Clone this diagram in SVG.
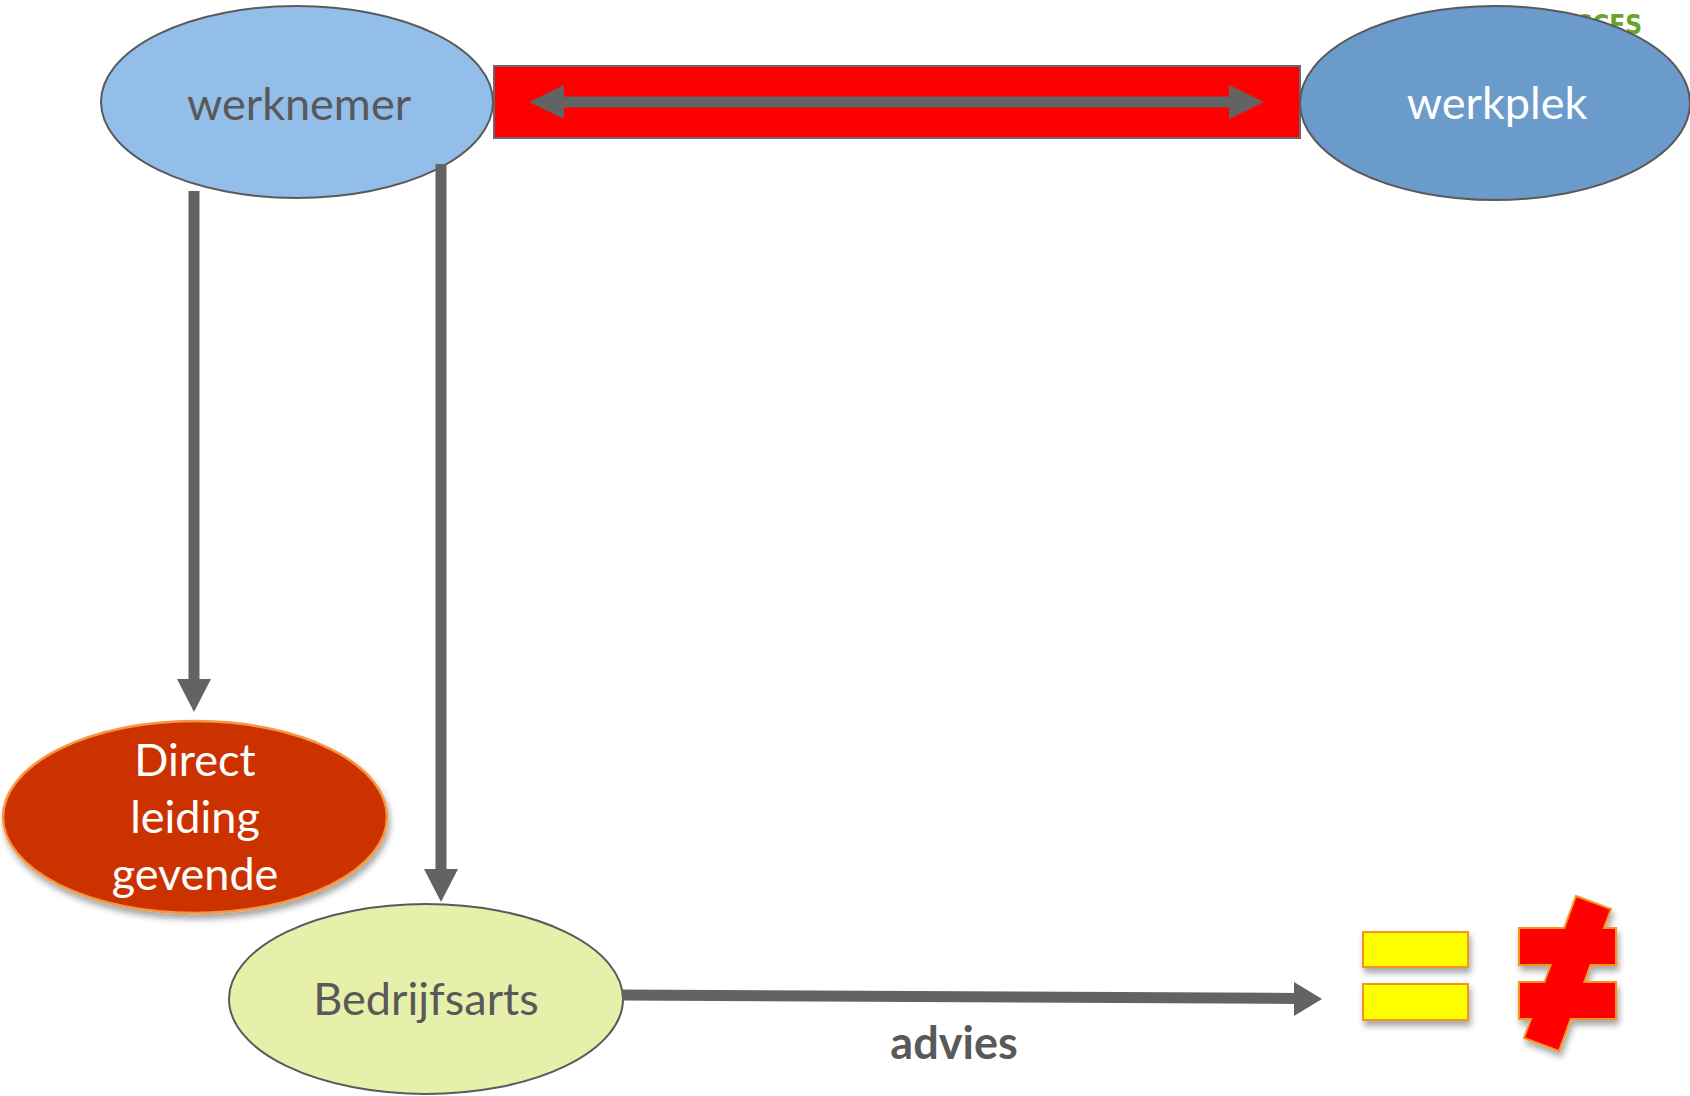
<svg xmlns="http://www.w3.org/2000/svg" width="1690" height="1096" viewBox="0 0 1690 1096">
<style>
  .lbl { font-family: Lato, "Open Sans", "Liberation Sans", sans-serif; font-size: 45px; text-anchor: middle; }
  .gray { fill: #595959; }
  .white { fill: #ffffff; }
  .conn { stroke: #636363; stroke-width: 11; fill: none; }
  .head { fill: #636363; }
  .outline { stroke: #5a5a5a; stroke-width: 2; }
</style>
<defs>
  <filter id="shadow" x="-20%" y="-20%" width="140%" height="150%">
    <feDropShadow dx="2" dy="5" stdDeviation="3" flood-color="#000" flood-opacity="0.35"/>
  </filter>
</defs>
<rect width="1690" height="1096" fill="#ffffff"/>

<text x="1642" y="34" font-family="'Liberation Sans Narrow', 'DejaVu Sans Condensed', sans-serif" font-weight="bold" font-size="26" fill="#6CA32E" text-anchor="end">SUCCES</text>

<g id="red-bar">
  <rect x="494" y="66" width="806" height="72" fill="#FF0000" stroke="#6a6a6a" stroke-width="2"/>
</g>

<g id="werknemer">
  <ellipse cx="297" cy="102" rx="196" ry="96" fill="#93BEEA" class="outline"/>
  <text x="299" y="120" class="lbl gray">werknemer</text>
</g>

<g id="werkplek">
  <ellipse cx="1495" cy="103" rx="195" ry="97" fill="#6A9BCB" class="outline"/>
  <text x="1497" y="119" class="lbl white">werkplek</text>
</g>

<g id="direct-leidinggevende">
  <ellipse cx="195" cy="817" rx="192" ry="96" fill="#CC3300" stroke="#F7963F" stroke-width="2.5" filter="url(#shadow)"/>
  <text x="195" y="776" class="lbl white">Direct</text>
  <text x="195" y="833" class="lbl white">leiding</text>
  <text x="195" y="890" class="lbl white">gevende</text>
</g>

<g id="bedrijfsarts">
  <ellipse cx="426" cy="999" rx="197" ry="95" fill="#E6F0AA" class="outline"/>
  <text x="426" y="1015" class="lbl gray">Bedrijfsarts</text>
</g>

<g id="connectors">
  <line x1="560" y1="102" x2="1232" y2="102" class="conn"/>
  <polygon points="529,102 564,85 564,119" class="head"/>
  <polygon points="1264,102 1229,85 1229,119" class="head"/>

  <line x1="194" y1="191" x2="194" y2="682" class="conn"/>
  <polygon points="194,712 177,679 211,679" class="head"/>

  <line x1="441" y1="164" x2="441" y2="872" class="conn"/>
  <polygon points="441,902 424,869 458,869" class="head"/>

  <line x1="622" y1="995" x2="1297" y2="998.5" class="conn"/>
  <polygon points="1322,999 1294,982 1294,1016" class="head"/>
</g>

<g id="advies-label">
  <text x="954" y="1059" font-family="Lato, 'Open Sans', 'Liberation Sans', sans-serif" font-weight="bold" font-size="45" fill="#595959" text-anchor="middle">advies</text>
</g>

<g id="equals" filter="url(#shadow)">
  <rect x="1363" y="932" width="105" height="35" fill="#FFFF00" stroke="#F7941D" stroke-width="2"/>
  <rect x="1363" y="984" width="105" height="36" fill="#FFFF00" stroke="#F7941D" stroke-width="2"/>
</g>

<g id="not-equals" filter="url(#shadow)">
  <path d="M1576,896 L1611,909 L1604,928 L1616,928 L1616,965 L1590.5,965 L1584.3,982 L1616,982 L1616,1019 L1570.7,1019 L1559,1051 L1524,1038 L1531,1019 L1519,1019 L1519,982 L1544.5,982 L1550.7,965 L1519,965 L1519,928 L1564.3,928 Z" fill="#FF0000" stroke="#F7941D" stroke-width="2" stroke-linejoin="miter"/>
</g>
</svg>
